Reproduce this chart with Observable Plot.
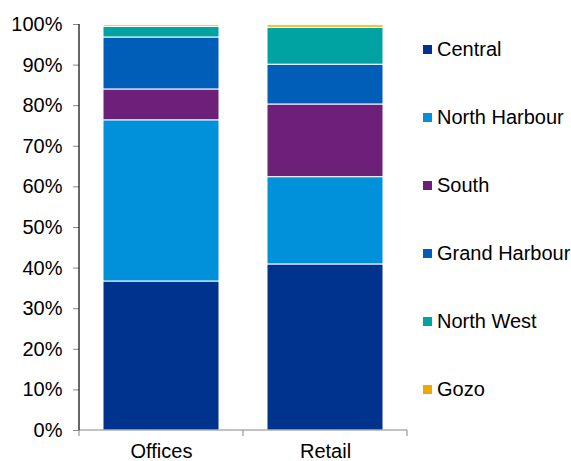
<!DOCTYPE html>
<html>
<head>
<meta charset="utf-8">
<script src="https://cdn.jsdelivr.net/npm/d3@7"></script>
<script src="https://cdn.jsdelivr.net/npm/@observablehq/plot@0.6"></script>
<style>
  html, body { margin: 0; padding: 0; background: #fff; }
  #wrap { position: relative; width: 571px; height: 461px; font-family: "Liberation Sans", Arial, sans-serif; }
  #chart { position: absolute; left: 0; top: 0; }
  #legend { position: absolute; left: 423px; top: 15px; }
  .item { height: 68px; display: flex; align-items: center; font-size: 20px; color: #000; white-space: nowrap; }
  .sw { width: 9px; height: 9px; margin-right: 5px; flex: none; }
</style>
</head>
<body>
<div id="wrap"><div id="chart"></div><div id="legend"></div></div>
<script>
const categories = ["Offices", "Retail"];
const seriesNames = ["Central", "North Harbour", "South", "Grand Harbour", "North West", "Gozo"];
const colors = ["#00338D", "#0091DA", "#6D2077", "#005EB8", "#00A3A1", "#EAAA00"];
const officesValues = [0.367, 0.397, 0.076, 0.128, 0.026, 0.004];
const retailValues = [0.409, 0.215, 0.179, 0.098, 0.091, 0.006];
const yTicks = [0, 0.1, 0.2, 0.3, 0.4, 0.5, 0.6, 0.7, 0.8, 0.9, 1.0];

const valuesByCategory = {Offices: officesValues, Retail: retailValues};
const data = [];
for (const c of categories) {
  seriesNames.forEach((s, i) => data.push({category: c, series: s, value: valuesByCategory[c][i]}));
}

// axis lines and boundary ticks drawn via the scales
function axisLines(index, scales, values, dims) {
  const x = scales.x, y = scales.y;
  const g = d3.create("svg:g");
  const x0 = dims.marginLeft, x1 = dims.width - dims.marginRight;
  const y0 = y(0), y1 = y(1);
  g.append("line").attr("x1", x0).attr("x2", x1).attr("y1", y0).attr("y2", y0)
    .attr("stroke", "#868686").attr("stroke-width", 1);
  const bw = x.bandwidth(), step = x.step();
  const bounds = [x0];
  categories.forEach((c, i) => { if (i > 0) bounds.push(x(c) - (step - bw) / 2); });
  bounds.push(x1);
  for (const b of bounds) {
    g.append("line").attr("x1", b).attr("x2", b).attr("y1", y0).attr("y2", y0 + 6)
      .attr("stroke", "#868686");
  }
  g.append("line").attr("x1", x0).attr("x2", x0).attr("y1", y1).attr("y2", y0)
    .attr("stroke", "#000").attr("stroke-width", 1.2);
  return g.node();
}

const chart = Plot.plot({
  width: 410,
  height: 461,
  marginLeft: 79,
  marginRight: 3,
  marginTop: 24,
  marginBottom: 31,
  style: {fontFamily: "Liberation Sans, Arial, sans-serif", fontSize: "20px", color: "#000", background: "#fff"},
  x: {domain: categories, paddingInner: 0.29, paddingOuter: 0.145, label: null},
  y: {domain: [0, 1], label: null},
  color: {domain: seriesNames, range: colors},
  marks: [
    Plot.barY(data, Plot.stackY({order: seriesNames}, {
      x: "category", y: "value", z: "series", fill: "series",
      stroke: "#fff", strokeWidth: 1
    })),
    Plot.axisY({ticks: yTicks, tickFormat: d3.format(".0%"), tickSize: 6, tickPadding: 11, stroke: "#868686", fill: "#000", label: null, fontSize: 20}),
    Plot.axisX({tickSize: 0, tickPadding: 13, fill: "#000", label: null, fontSize: 20}),
    axisLines
  ]
});
document.getElementById("chart").appendChild(chart);

const legend = document.getElementById("legend");
seriesNames.forEach((s, i) => {
  const item = document.createElement("div");
  item.className = "item";
  const sw = document.createElement("span");
  sw.className = "sw";
  sw.style.background = colors[i];
  const t = document.createElement("span");
  t.textContent = s;
  item.appendChild(sw); item.appendChild(t);
  legend.appendChild(item);
});
</script>
</body>
</html>
